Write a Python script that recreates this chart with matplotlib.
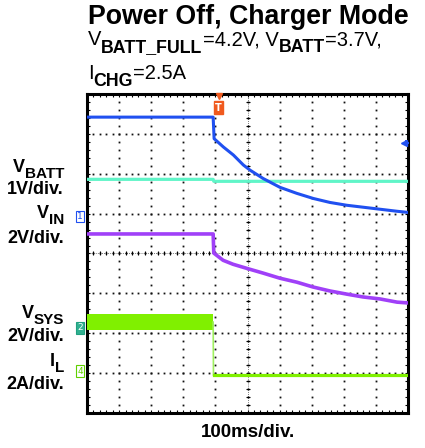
import matplotlib
matplotlib.use("Agg")
import matplotlib.pyplot as plt
import numpy as np

# ---- data (screen divisions: x 0..10, y 0..8) ----
t_trig = 3.93
vin_t = [0.0, 3.93, 3.96, 4.25, 4.56, 4.87, 5.08, 5.49, 6.01, 6.53, 7.05, 7.57, 8.09, 8.61, 9.13, 9.65, 10.0]
vin_y = [7.42, 7.42, 6.88, 6.67, 6.47, 6.22, 6.09, 5.88, 5.66, 5.51, 5.38, 5.28, 5.21, 5.16, 5.11, 5.06, 5.03]
vbatt_t = [0.0, 3.93, 3.95, 10.0]
vbatt_y = [5.86, 5.86, 5.81, 5.81]
vsys_t = [0.0, 3.93, 3.95, 4.24, 4.55, 5.05, 5.48, 6.01, 6.54, 7.04, 7.57, 8.10, 8.60, 9.13, 9.66, 10.0]
vsys_y = [4.49, 4.49, 4.01, 3.83, 3.73, 3.61, 3.51, 3.38, 3.28, 3.16, 3.06, 2.98, 2.91, 2.86, 2.78, 2.76]
il_t = [0.0, 3.93]
il_hi = [2.48, 2.48]
il_lo = [2.08, 2.08]
il_after_t = [3.95, 10.0]
il_after_y = [0.95, 0.95]

W, H = 425, 448
fig = plt.figure(figsize=(W / 100, H / 100), dpi=100)
ax = fig.add_axes([87 / W, 1 - 413 / H, 321 / W, 319 / H])
ax.set_xlim(0, 10)
ax.set_ylim(0, 8)
ax.set_xticks([])
ax.set_yticks([])
for s in ax.spines.values():
    s.set_linewidth(2.2)
    s.set_color("black")

# grid dots
dot_kw = dict(color="#111111", marker="s", markersize=1.3, markeredgewidth=0,
              linestyle="none", zorder=1)
minor_x = np.arange(0, 10.001, 0.2)
minor_y = np.arange(0, 8.001, 0.2)
for gy in range(1, 8):
    ax.plot(minor_x, np.full_like(minor_x, gy), **dot_kw)
for gx in range(1, 10):
    ax.plot(np.full_like(minor_y, gx), minor_y, **dot_kw)
# center cross ticks
tick_kw = dict(color="black", markersize=3.5, markeredgewidth=0.8, linestyle="none", zorder=1)
ax.plot(minor_x, np.full_like(minor_x, 4), marker="|", **tick_kw)
ax.plot(np.full_like(minor_y, 5), minor_y, marker="_", **tick_kw)
ax.plot([0, 10], [4, 4], color="black", lw=0.5, ls=(0, (1, 2)), zorder=1)
ax.plot([5, 5], [0, 8], color="black", lw=0.5, ls=(0, (1, 2)), zorder=1)
# border ticks
for yv in [0.03, 7.97]:
    ax.plot(minor_x, np.full_like(minor_x, yv), marker="|", clip_on=False, **tick_kw)
for xv in [0.03, 9.97]:
    ax.plot(np.full_like(minor_y, xv), minor_y, marker="_", clip_on=False, **tick_kw)

# traces
ax.plot(vbatt_t, vbatt_y, color="#60f5c8", lw=2.3, zorder=3)
ax.plot(vin_t, vin_y, color="#2050f0", lw=2.2, zorder=4, solid_joinstyle="round")
ax.plot(vsys_t, vsys_y, color="#a040f8", lw=2.6, zorder=3, solid_joinstyle="round")
ax.fill_between(il_t, il_lo, il_hi, color="#80f000", lw=0, zorder=3)
ax.plot([t_trig, t_trig + 0.01], [2.28, il_after_y[0]], color="#a0f060", lw=1.2, zorder=3)
ax.plot(il_after_t, il_after_y, color="#80f000", lw=2.3, zorder=3)

# trigger marker and level marker
ax.plot([4.1], [7.95], marker="v", color="#f05a1e", markersize=5, clip_on=False, zorder=6)
ax.text(4.1, 7.66, "T", color="white", fontsize=7, fontweight="bold", ha="center", va="center",
        bbox=dict(boxstyle="square,pad=0.15", fc="#f05a1e", ec="#f05a1e"), zorder=6)
ax.plot([9.88], [6.77], marker="<", color="#2050f0", markersize=5, zorder=6)
ax.plot([9.93], [6.77], marker="+", color="#2050f0", markersize=5, markeredgewidth=1.5, zorder=6)

# channel markers on left
def chmark(yv, label, ec, fc):
    ax.text(-0.22, yv, label, fontsize=6.5, color=ec if fc == "white" else "white",
            ha="center", va="center", clip_on=False,
            bbox=dict(boxstyle="square,pad=0.15", fc=fc, ec=ec, lw=0.8))
chmark(4.93, "1", "#2050f0", "white")
chmark(2.14, "2", "#20a080", "#30b090")
chmark(1.05, "4", "#60d000", "white")

fam = ["Liberation Sans", "DejaVu Sans"]
renderer = fig.canvas.get_renderer()


def rich(x_px, y_px, parts, ha="left"):
    """parts: list of (text, size, dy_px, weight)"""
    widths = []
    objs = []
    for txt, size, dy, wt in parts:
        t = fig.text(0, 0, txt, fontsize=size, fontweight=wt, family=fam, ha="left",
                     va="baseline")
        bb = t.get_window_extent(renderer)
        widths.append(bb.width)
        objs.append((t, dy))
    total = sum(widths)
    x = x_px - (total if ha == "right" else 0)
    for (t, dy), w in zip(objs, widths):
        t.set_position((x / W, 1 - (y_px + dy) / H))
        x += w


fig.text(88 / W, 1 - 24 / H, "Power Off, Charger Mode", fontsize=19.3, fontweight="bold",
         family=fam, ha="left", va="baseline")

S, SS = 14.5, 12.8
rich(88, 45, [("V", S, 0, "normal"), ("BATT_FULL", SS, 7, "bold"), ("=4.2V, V", S, 0, "normal"),
              ("BATT", SS, 7, "bold"), ("=3.7V,", S, 0, "normal")])
rich(88, 79, [("I", S, 0, "normal"), ("CHG", SS, 7, "bold"), ("=2.5A", S, 0, "normal")])

L, LS = 13, 11
rich(64, 172, [("V", L, 0, "bold"), ("BATT", LS, 6, "bold")], ha="right")
rich(64, 194, [("1V/div.", L, 0, "bold")], ha="right")
rich(64, 218, [("V", L, 0, "bold"), ("IN", LS, 6, "bold")], ha="right")
rich(64, 243, [("2V/div.", L, 0, "bold")], ha="right")
rich(64, 318, [("V", L, 0, "bold"), ("SYS", LS, 6, "bold")], ha="right")
rich(64, 341, [("2V/div.", L, 0, "bold")], ha="right")
rich(64, 366, [("I", L, 0, "bold"), ("L", LS, 6, "bold")], ha="right")
rich(64, 389, [("2A/div.", L, 0, "bold")], ha="right")

fig.text(248 / W, 1 - 437 / H, "100ms/div.", fontsize=13.5, fontweight="bold", family=fam,
         ha="center", va="baseline")

fig.savefig("out.png", dpi=100)
